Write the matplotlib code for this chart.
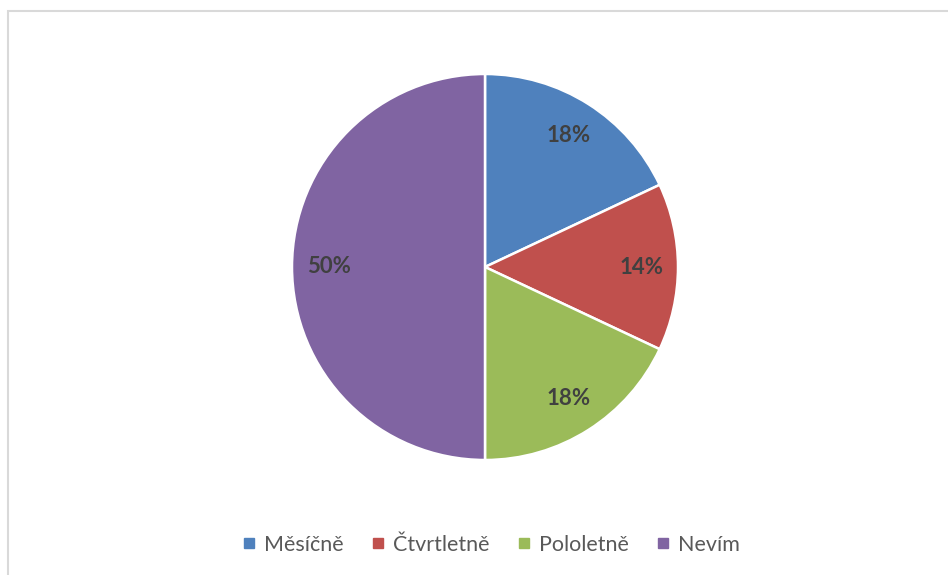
import matplotlib.pyplot as plt
from matplotlib.lines import Line2D
from matplotlib.patches import Rectangle

labels = ['Měsíčně', 'Čtvrtletně', 'Pololetně', 'Nevím']
values = [18, 14, 18, 50]
colors = ['#4F81BD', '#C0504D', '#9BBB59', '#8064A2']

W, H = 948, 575
fig = plt.figure(figsize=(W / 100, H / 100), dpi=100)
plt.rcParams['font.family'] = ['Lato', 'DejaVu Sans']

# light grey chart-area frame
fig.patches.append(Rectangle((8 / W, -0.1), 1.2, (575 - 11) / H + 0.1,
                             transform=fig.transFigure, fill=False,
                             edgecolor='#D9D9D9', linewidth=1.5))

cx, cy, r = 485, 267, 193
ax = fig.add_axes([(cx - r) / W, (H - cy - r) / H, 2 * r / W, 2 * r / H])
wedges, texts, autotexts = ax.pie(values, colors=colors, startangle=90, counterclock=False,
                                  autopct='%1.0f%%', pctdistance=0.81,
                                  wedgeprops=dict(edgecolor='white', linewidth=1.8))
for t in autotexts:
    t.set_fontsize(16)
    t.set_fontweight('bold')
    t.set_color('#404040')
ax.set_xlim(-1, 1)
ax.set_ylim(-1, 1)
ax.axis('off')

handles = [Line2D([], [], marker='s', linestyle='', markersize=7, color=c) for c in colors]
fig.legend(handles, labels, loc='center', bbox_to_anchor=(490 / W, 1 - 545 / H), ncol=4,
           frameon=False, fontsize=15.5, handletextpad=0.3, columnspacing=1.2,
           labelcolor='#595959', handlelength=0.8)

fig.savefig('out.png', dpi=100)
